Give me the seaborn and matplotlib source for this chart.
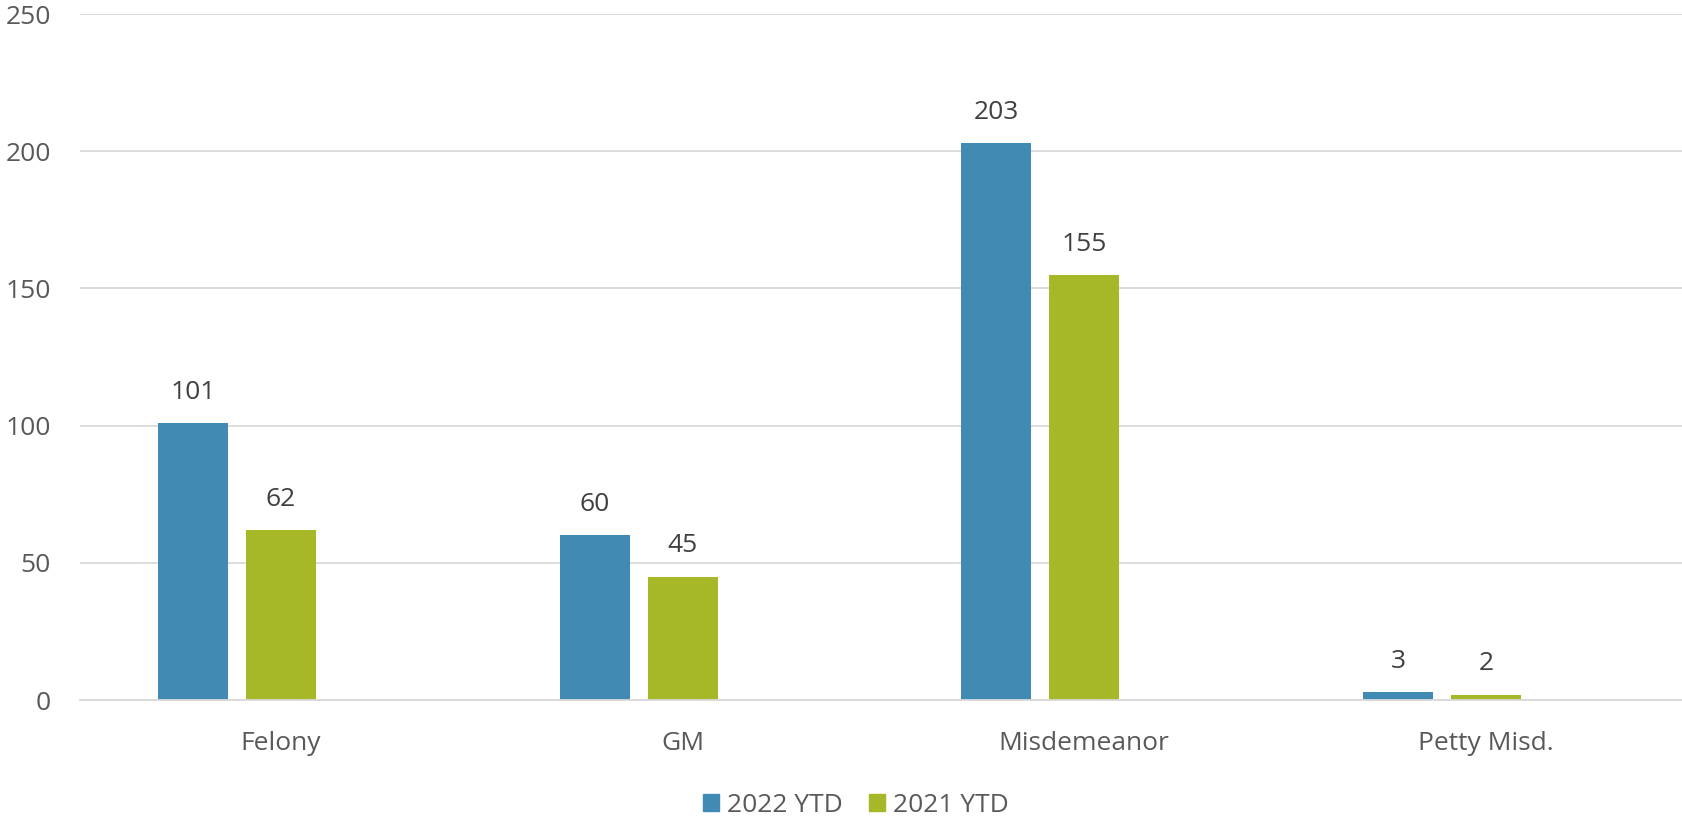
import matplotlib
matplotlib.use("Agg")
import matplotlib.pyplot as plt
import seaborn as sns
import pandas as pd
import numpy as np

categories = ["Felony", "GM", "Misdemeanor", "Petty Misd."]
ytd_2022 = [101, 60, 203, 3]
ytd_2021 = [62, 45, 155, 2]
series = ["2022 YTD", "2021 YTD", "_blank"]
colors = ["#418AB3", "#A6B727", "#FFFFFF"]

df = pd.DataFrame({
    "category": categories * 3,
    "series": ["2022 YTD"] * 4 + ["2021 YTD"] * 4 + ["_blank"] * 4,
    "value": ytd_2022 + ytd_2021 + [np.nan] * 4,
})

sns.set_theme(style="white")
plt.rcParams["font.family"] = ["Open Sans", "DejaVu Sans"]

W, H = 1682, 816
fig = plt.figure(figsize=(W / 100, H / 100), dpi=100)
# plot area in pixels: x 80..1682, y 14..700
ax = fig.add_axes([80 / W, 1 - 700 / H, (W - 80) / W, 686 / H])

sns.barplot(data=df, x="category", y="value", hue="series", hue_order=series,
            palette=colors, width=0.657, gap=0.205, dodge=True, ax=ax,
            errorbar=None, saturation=1, linewidth=0, legend=False)

for cont, name in zip(ax.containers, series):
    if name == "_blank":
        continue
    ax.bar_label(cont, fmt="%d", padding=13, fontsize=19, color="#404040")

# category spacing ~402 px, plot area 1602 px wide
ax.set_xlim(-0.5, -0.5 + (W - 80) / 401.7)
ax.set_ylim(0, 250)
ax.set_yticks([0, 50, 100, 150, 200, 250])
ax.yaxis.grid(True, color="#D9D9D9", linewidth=1.3)
ax.set_axisbelow(True)
for s in ["top", "right", "left"]:
    ax.spines[s].set_visible(False)
ax.spines["bottom"].set_color("#D9D9D9")
ax.spines["bottom"].set_linewidth(1.3)
ax.tick_params(axis="both", length=0, labelsize=19, colors="#595959")
ax.tick_params(axis="y", pad=21)
ax.tick_params(axis="x", pad=22)
ax.set_xlabel("")
ax.set_ylabel("")

handles = [plt.Rectangle((0, 0), 1, 1, color=c) for c in colors[:2]]
fig.legend(handles, series[:2], loc="center", bbox_to_anchor=(856 / W, 1 - 805 / H),
           ncol=2, frameon=False, fontsize=19, handlelength=0.6, handleheight=0.6,
           handletextpad=0.3, columnspacing=1.0, labelcolor="#595959")

fig.savefig("out.png", dpi=100)
